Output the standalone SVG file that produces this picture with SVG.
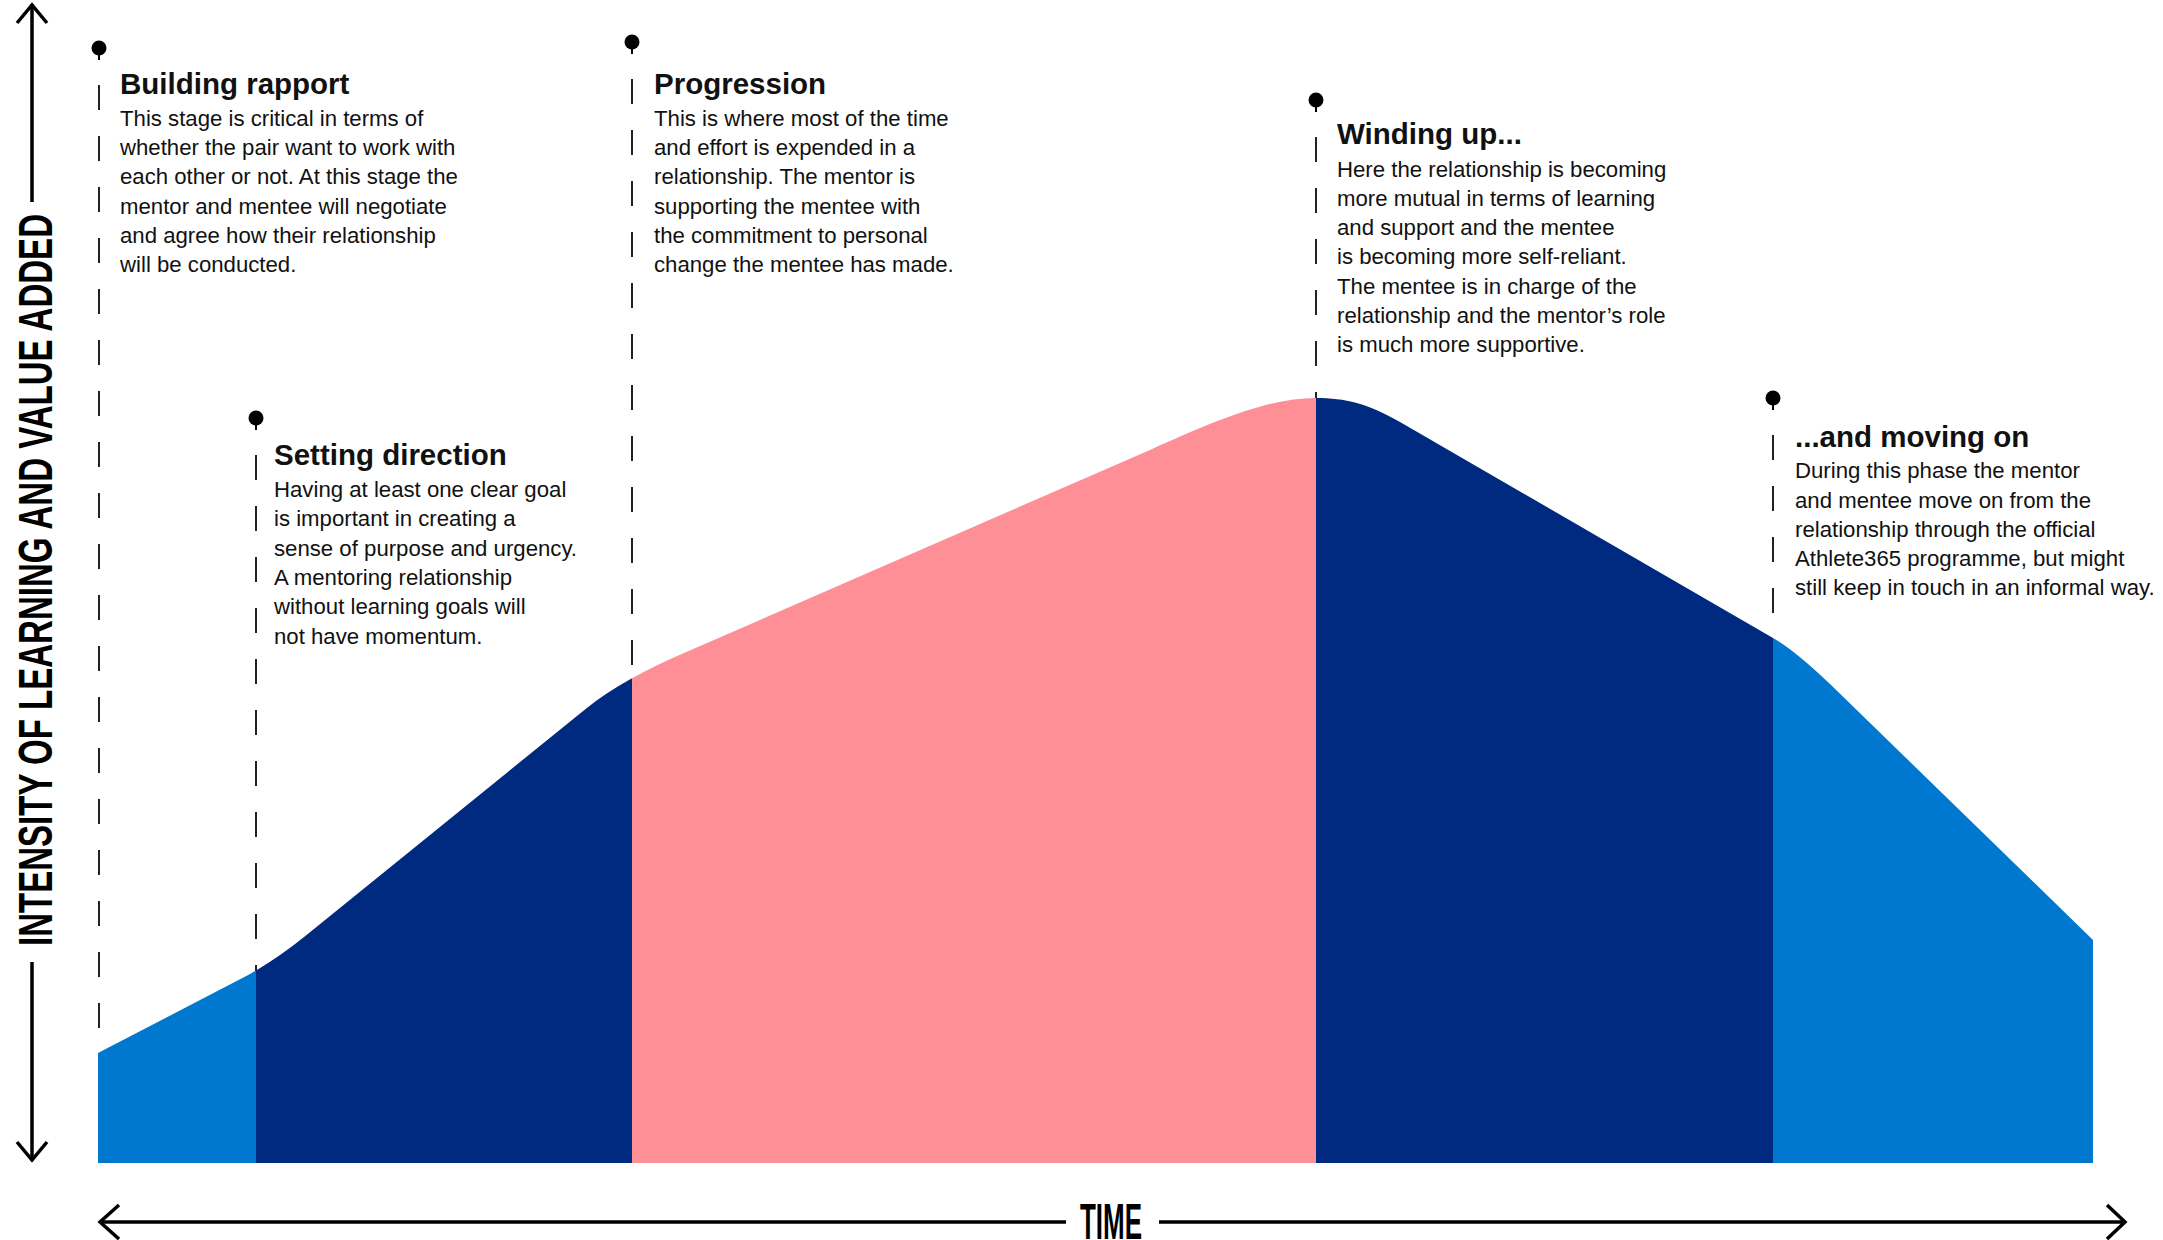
<svg xmlns="http://www.w3.org/2000/svg" xmlns:xlink="http://www.w3.org/1999/xlink" width="2163" height="1240" viewBox="0 0 2163 1240">
<style>
.t{font-family:"Liberation Sans",Arial,sans-serif;font-size:29.5px;font-weight:bold;fill:#111}
.b{font-family:"Liberation Sans",Arial,sans-serif;font-size:22.2px;fill:#111}
.dash{stroke:#222;stroke-width:2;stroke-dasharray:25 26;fill:none}
.axis{stroke:#000;stroke-width:3.5;fill:none;stroke-linecap:butt}
.head{stroke:#000;stroke-width:3.5;fill:none;stroke-linejoin:miter}
.ax{font-family:"Liberation Sans",Arial,sans-serif;font-weight:bold;fill:#000}
.pin{fill:#000}
.pintail{stroke:#000;stroke-width:2}
</style>
<defs>
<path id="curve" d="M 98 1053 L 240 979.3 Q 272.5 962.4 305 936.2 L 585 709.4 Q 620 681 680 654.8 L 1150 449.9 C 1220 418.5 1270 398 1316 398 C 1345 398 1368 403.5 1400 422 L 1773 637.9 Q 1794.5 650 1830 684 L 2093 940 L 2093 1163 L 98 1163 Z"/>
<clipPath id="band1"><rect x="90" y="0" width="166" height="1240"/></clipPath>
<clipPath id="band2"><rect x="256" y="0" width="376" height="1240"/></clipPath>
<clipPath id="band3"><rect x="632" y="0" width="684" height="1240"/></clipPath>
<clipPath id="band4"><rect x="1316" y="0" width="457" height="1240"/></clipPath>
<clipPath id="band5"><rect x="1773" y="0" width="330" height="1240"/></clipPath>
</defs>

<g id="connectors">
<line class="dash" x1="99" y1="85" x2="99" y2="1053"/>
<line class="dash" x1="256" y1="455" x2="256" y2="971"/>
<line class="dash" x1="632" y1="79" x2="632" y2="677"/>
<line class="dash" x1="1316" y1="137" x2="1316" y2="398"/>
<line class="dash" x1="1773" y1="435" x2="1773" y2="637"/>
</g>

<g id="area">
<use xlink:href="#curve" href="#curve" fill="#0078D0" clip-path="url(#band1)"/>
<use xlink:href="#curve" href="#curve" fill="#002A80" clip-path="url(#band2)"/>
<use xlink:href="#curve" href="#curve" fill="#FF8F97" clip-path="url(#band3)"/>
<use xlink:href="#curve" href="#curve" fill="#002A80" clip-path="url(#band4)"/>
<use xlink:href="#curve" href="#curve" fill="#0078D0" clip-path="url(#band5)"/>
</g>

<g id="axes">
<line class="axis" x1="32" y1="4" x2="32" y2="202"/>
<line class="axis" x1="32" y1="962" x2="32" y2="1161"/>
<polyline class="head" points="17,23 32,5 47,23"/>
<polyline class="head" points="17,1142 32,1160 47,1142"/>
<text class="ax" font-size="49" transform="translate(51.5,580) rotate(-90)" text-anchor="middle" textLength="732" lengthAdjust="spacingAndGlyphs">INTENSITY OF LEARNING AND VALUE ADDED</text>
<line class="axis" x1="100" y1="1222" x2="1066" y2="1222"/>
<line class="axis" x1="1159" y1="1222" x2="2125" y2="1222"/>
<polyline class="head" points="119,1205 100,1222 119,1239"/>
<polyline class="head" points="2107,1205 2125,1222 2107,1239"/>
<text class="ax" font-size="50" x="1080" y="1239" textLength="62" lengthAdjust="spacingAndGlyphs">TIME</text>
</g>

<g id="node-building-rapport">
<circle class="pin" cx="99" cy="48" r="7.5"/><line class="pintail" x1="99" y1="50" x2="99" y2="60"/>
<text class="t" x="120" y="94">Building rapport</text>
<text class="b" x="120" y="126">This stage is critical in terms of</text>
<text class="b" x="120" y="155.2">whether the pair want to work with</text>
<text class="b" x="120" y="184.4">each other or not. At this stage the</text>
<text class="b" x="120" y="213.6">mentor and mentee will negotiate</text>
<text class="b" x="120" y="242.8">and agree how their relationship</text>
<text class="b" x="120" y="272">will be conducted.</text>
</g>

<g id="node-setting-direction">
<circle class="pin" cx="256" cy="418" r="7.5"/><line class="pintail" x1="256" y1="420" x2="256" y2="430"/>
<text class="t" x="274" y="465">Setting direction</text>
<text class="b" x="274" y="497">Having at least one clear goal</text>
<text class="b" x="274" y="526.3">is important in creating a</text>
<text class="b" x="274" y="555.6">sense of purpose and urgency.</text>
<text class="b" x="274" y="584.9">A mentoring relationship</text>
<text class="b" x="274" y="614.2">without learning goals will</text>
<text class="b" x="274" y="643.5">not have momentum.</text>
</g>

<g id="node-progression">
<circle class="pin" cx="632" cy="42" r="7.5"/><line class="pintail" x1="632" y1="44" x2="632" y2="54"/>
<text class="t" x="654" y="94">Progression</text>
<text class="b" x="654" y="126">This is where most of the time</text>
<text class="b" x="654" y="155.2">and effort is expended in a</text>
<text class="b" x="654" y="184.4">relationship. The mentor is</text>
<text class="b" x="654" y="213.6">supporting the mentee with</text>
<text class="b" x="654" y="242.8">the commitment to personal</text>
<text class="b" x="654" y="272">change the mentee has made.</text>
</g>

<g id="node-winding-up">
<circle class="pin" cx="1316" cy="100" r="7.5"/><line class="pintail" x1="1316" y1="102" x2="1316" y2="112"/>
<text class="t" x="1337" y="144">Winding up...</text>
<text class="b" x="1337" y="176.7">Here the relationship is becoming</text>
<text class="b" x="1337" y="205.9">more mutual in terms of learning</text>
<text class="b" x="1337" y="235.1">and support and the mentee</text>
<text class="b" x="1337" y="264.3">is becoming more self-reliant.</text>
<text class="b" x="1337" y="293.5">The mentee is in charge of the</text>
<text class="b" x="1337" y="322.7">relationship and the mentor’s role</text>
<text class="b" x="1337" y="351.9">is much more supportive.</text>
</g>

<g id="node-moving-on">
<circle class="pin" cx="1773" cy="398" r="7.5"/><line class="pintail" x1="1773" y1="400" x2="1773" y2="410"/>
<text class="t" x="1795" y="447">...and moving on</text>
<text class="b" x="1795" y="478.3">During this phase the mentor</text>
<text class="b" x="1795" y="507.5">and mentee move on from the</text>
<text class="b" x="1795" y="536.7">relationship through the official</text>
<text class="b" x="1795" y="565.9">Athlete365 programme, but might</text>
<text class="b" x="1795" y="595.1">still keep in touch in an informal way.</text>
</g>
</svg>
